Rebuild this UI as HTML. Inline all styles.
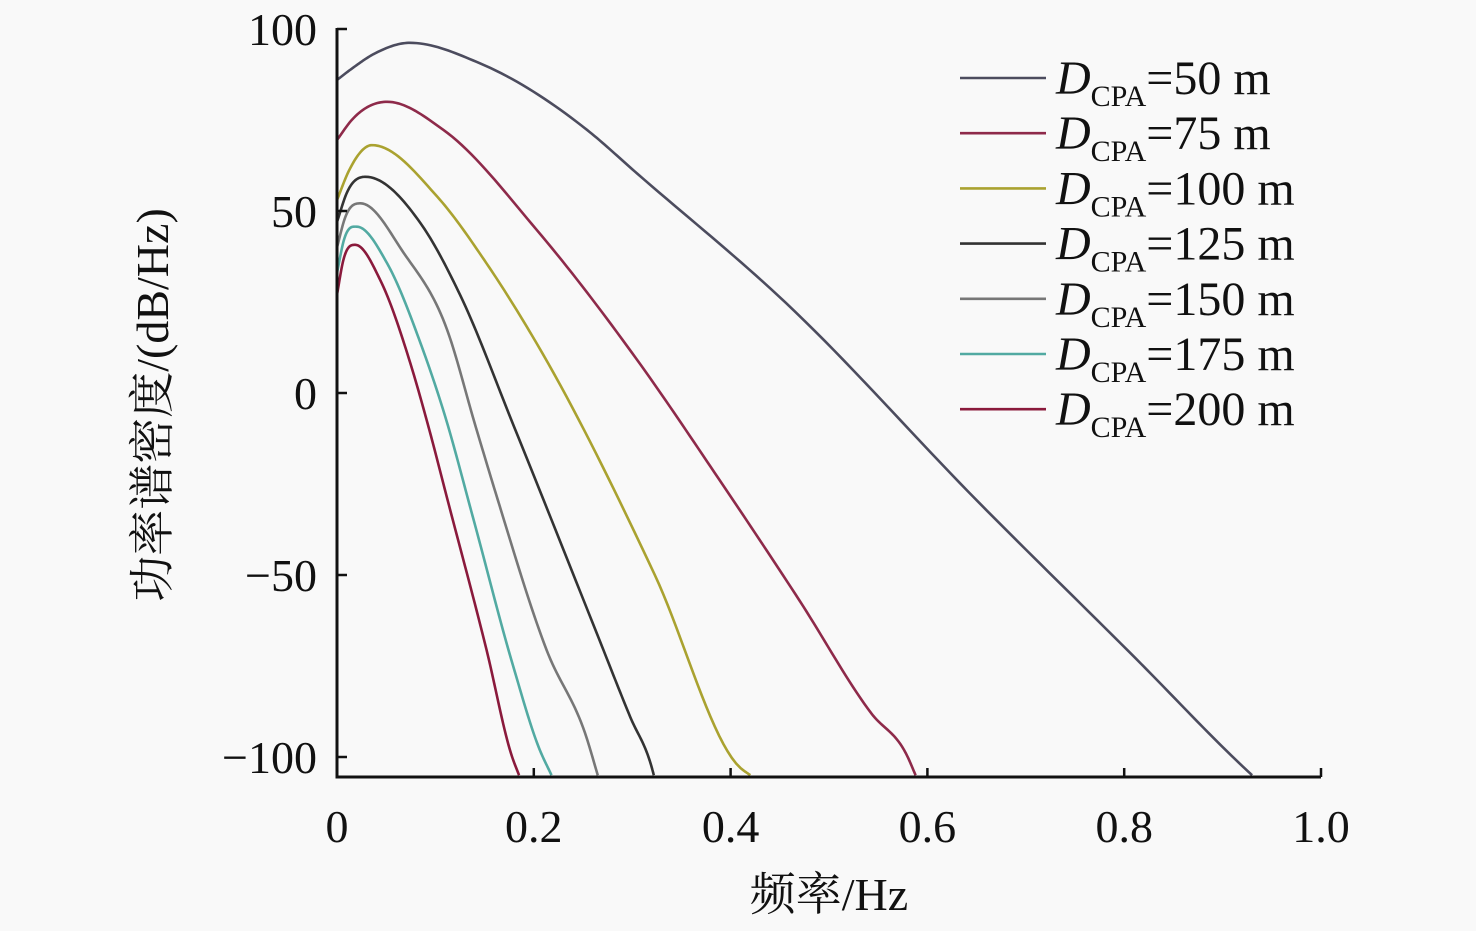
<!DOCTYPE html>
<html><head><meta charset="utf-8"><style>
html,body{margin:0;padding:0;background:#f9f9f9;}
svg{display:block;}
text{font-family:"Liberation Serif","Times New Roman",Times,"Nimbus Roman","Noto Serif CJK SC",serif;fill:#111;}
</style></head><body>
<svg id="chart" width="1476" height="931" viewBox="0 0 1476 931">
<rect width="1476" height="931" fill="#f9f9f9"/>
<g id="plot"></g>
<g id="axes"></g>
<g id="legend"></g>
<text x="829" y="910" text-anchor="middle" font-size="46">频率/Hz</text>
<text transform="translate(168,405) rotate(-90)" text-anchor="middle" font-size="46">功率谱密度/(dB/Hz)</text>
</svg>
<script>
const xTicks = [0, 0.2, 0.4, 0.6, 0.8, 1.0];
const xTickLabels = ["0", "0.2", "0.4", "0.6", "0.8", "1.0"];
const yTicks = [100, 50, 0, -50, -100];
const yTickLabels = ["100", "50", "0", "\u221250", "\u2212100"];
const seriesNames = ["=50 m", "=75 m", "=100 m", "=125 m", "=150 m", "=175 m", "=200 m"];
const seriesColors = ["#4c4c5e", "#8e2a4a", "#aaa230", "#333333", "#777777", "#52aaa2", "#8a1a3c"];
const f50 = [0, 0.013, 0.04, 0.074, 0.145, 0.254, 0.305, 0.456, 0.652, 0.812, 0.926, 0.93];
const d50 = [86, 88.7, 93.5, 96.2, 90.6, 72.3, 60.3, 24.8, -30, -73, -104, -105];
const f75 = [0, 0.015, 0.051, 0.108, 0.203, 0.305, 0.388, 0.47, 0.543, 0.58, 0.588];
const d75 = [69.5, 75, 80, 72.3, 44.8, 9.1, -23.6, -57, -88, -100, -105];
const f100 = [0, 0.012, 0.0356, 0.102, 0.152, 0.203, 0.323, 0.41, 0.42];
const d100 = [53, 61, 68.1, 53.9, 35.6, 13.6, -50, -103, -105];
const f125 = [0, 0.01, 0.029, 0.085, 0.125, 0.18, 0.264, 0.298, 0.32, 0.322];
const d125 = [47, 55, 59.4, 46.6, 27, -9.3, -66, -89, -103, -105];
const f150 = [0, 0.008, 0.024, 0.068, 0.112, 0.141, 0.163, 0.213, 0.254, 0.265];
const d150 = [40, 48, 52.1, 38.4, 17.3, -9.3, -29, -70.6, -95, -105];
const f175 = [0, 0.007, 0.02, 0.051, 0.085, 0.11, 0.138, 0.179, 0.206, 0.218];
const d175 = [33, 42, 45.7, 35.6, 13.6, -6.5, -34, -75, -98, -105];
const f200 = [0, 0.006, 0.0186, 0.044, 0.0745, 0.093, 0.112, 0.152, 0.178, 0.185];
const d200 = [27, 36, 40.7, 31, 8.2, -9.3, -29, -70.6, -100, -105];
const seriesF = [f50, f75, f100, f125, f150, f175, f200];
const seriesD = [d50, d75, d100, d125, d150, d175, d200];

const NS = "http://www.w3.org/2000/svg";
const X0 = 337, X1 = 1321, YB = 777;
function xs(v){ return X0 + v * (X1 - X0); }
function ys(v){ return 393 - v * 3.64; }
function mk(tag, parent){ const e = document.createElementNS(NS, tag); parent.appendChild(e); return e; }

function hermite(fa, da){
  const n = fa.length, m = [];
  for (let i = 0; i < n; i++) {
    if (i === 0) m.push((da[1]-da[0])/(fa[1]-fa[0]));
    else if (i === n-1) m.push((da[n-1]-da[n-2])/(fa[n-1]-fa[n-2]));
    else {
      const h0 = fa[i]-fa[i-1], h1 = fa[i+1]-fa[i];
      const s0 = (da[i]-da[i-1])/h0, s1 = (da[i+1]-da[i])/h1;
      if (s0*s1 <= 0) m.push(0);
      else m.push((h0*s1 + h1*s0)/(h0+h1));
    }
  }
  const out = [];
  for (let i = 0; i < n-1; i++) {
    const h = fa[i+1]-fa[i];
    for (let k = 0; k < 20; k++) {
      const t = k/20, t2=t*t, t3=t2*t;
      const v = (2*t3-3*t2+1)*da[i] + (t3-2*t2+t)*h*m[i] + (-2*t3+3*t2)*da[i+1] + (t3-t2)*h*m[i+1];
      out.push([fa[i]+t*h, v]);
    }
  }
  out.push([fa[n-1], da[n-1]]);
  return out;
}

const plot = document.getElementById('plot');
seriesF.forEach((fArr, s) => {
  const pts = hermite(fArr, seriesD[s]).map(p => xs(p[0]).toFixed(2) + "," + Math.min(ys(p[1]), YB).toFixed(2));
  const path = mk('path', plot);
  path.setAttribute('d', "M" + pts.join(" L"));
  path.setAttribute('fill', 'none');
  path.setAttribute('stroke', seriesColors[s]);
  path.setAttribute('stroke-width', '2.6');
  
  
});

const axes = document.getElementById('axes');
const yl = mk('line', axes);
yl.setAttribute('x1', X0); yl.setAttribute('x2', X0); yl.setAttribute('y1', 28); yl.setAttribute('y2', YB + 1.5);
yl.setAttribute('stroke', '#111'); yl.setAttribute('stroke-width', '3');


const xl = mk('line', axes);
xl.setAttribute('x1', X0 - 1.5); xl.setAttribute('x2', X1); xl.setAttribute('y1', YB); xl.setAttribute('y2', YB);
xl.setAttribute('stroke', '#111'); xl.setAttribute('stroke-width', '3');



xTicks.forEach((v, i) => {
  if (i > 0) {
    const t = mk('line', axes);
    t.setAttribute('x1', xs(v)); t.setAttribute('x2', xs(v)); t.setAttribute('y1', YB); t.setAttribute('y2', YB - 9);
    t.setAttribute('stroke', '#111'); t.setAttribute('stroke-width', '2.5');
    
    
  }
  const tx = mk('text', axes);
  tx.setAttribute('x', xs(v)); tx.setAttribute('y', 842);
  tx.setAttribute('text-anchor', 'middle'); tx.setAttribute('font-size', '46');
  tx.textContent = xTickLabels[i];
  
  
});
yTicks.forEach((v, i) => {
  const t = mk('line', axes);
  t.setAttribute('x1', X0); t.setAttribute('x2', X0 + 10); t.setAttribute('y1', ys(v)); t.setAttribute('y2', ys(v));
  t.setAttribute('stroke', '#111'); t.setAttribute('stroke-width', '2.5');
  
  
  const tx = mk('text', axes);
  tx.setAttribute('x', 317); tx.setAttribute('y', ys(v) + 16);
  tx.setAttribute('text-anchor', 'end'); tx.setAttribute('font-size', '46');
  tx.textContent = yTickLabels[i];
  
  
});

const legend = document.getElementById('legend');
seriesNames.forEach((n, i) => {
  const y = 78 + i * 55.2;
  const ln = mk('line', legend);
  ln.setAttribute('x1', 960); ln.setAttribute('x2', 1046); ln.setAttribute('y1', y); ln.setAttribute('y2', y);
  ln.setAttribute('stroke', seriesColors[i]); ln.setAttribute('stroke-width', '2.6');
  
  
  const tx = mk('text', legend);
  tx.setAttribute('x', 1056); tx.setAttribute('y', y + 16);
  tx.setAttribute('font-size', '48');
  tx.innerHTML = '<tspan font-style="italic">D</tspan><tspan font-size="30" dy="12">CPA</tspan><tspan dy="-12">' + n + '</tspan>';
  
  
});
</script>
</body></html>
